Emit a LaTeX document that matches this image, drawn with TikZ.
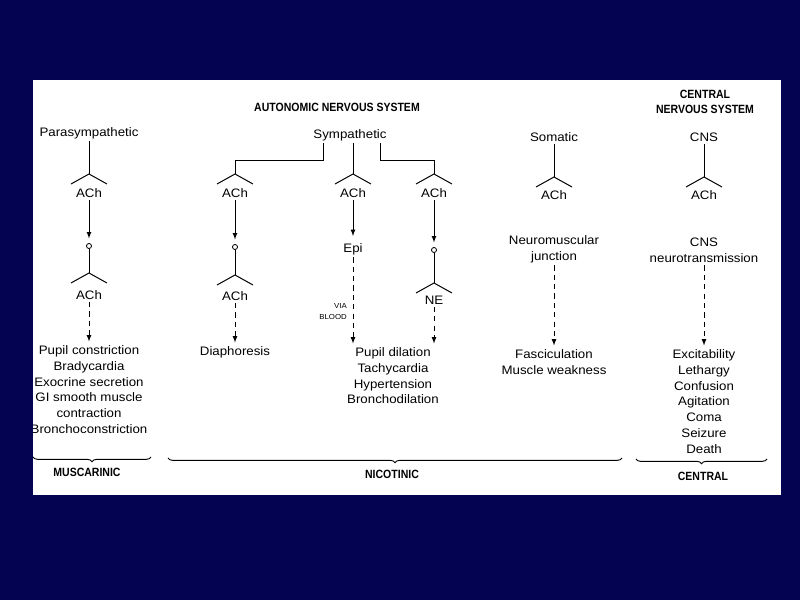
\documentclass[tikz,border=0pt]{standalone}
\usepackage{fontspec}
\setmainfont[FakeStretch=1.08]{Liberation Sans}
\newfontfamily\headfont[FakeStretch=0.88]{Liberation Sans}
\usetikzlibrary{positioning,decorations.pathreplacing}
\definecolor{slideblue}{RGB}{3,3,82}
\tikzset{
  lbl/.style={font=\fontsize{10.5}{13.6}\selectfont, inner sep=2pt, align=center
  },
  effects/.style={lbl, anchor=north, inner sep=0pt
  },
  head/.style={font=\headfont\bfseries\fontsize{10.2}{13.4}\selectfont, align=center, inner sep=0pt
  },
  tiny/.style={font=\fontsize{6.2}{9}\selectfont, anchor=east, inner sep=0pt
  },
  syn/.style={draw, circle, minimum size=4.3pt, inner sep=0pt, line width=0.7pt
  },
  fork/.pic={\draw[line width=0.85pt] (-18,10) -- (0,0) -- (18,10);},
  nerve/.style={line width=0.85pt},
  hit/.style={nerve, -latex, shorten >=4pt},
  blood/.style={nerve, dash pattern=on 4.5pt off 3.5pt, -latex, shorten >=3pt},
  bracey/.style={decorate, decoration={brace, mirror, amplitude=4pt}, line width=0.8pt}
}

\begin{document}
\begin{tikzpicture}[x=0.03cm, y=-0.03cm]
   \useasboundingbox (0,0) rectangle (800,600);
   \fill[slideblue] (0,0) rectangle (800,600);
   \fill[white] (33,80) rectangle (781,495);

   \begin{scope}
   \clip (33,80) rectangle (781,495);
   % headings
   \node[head] (ans) at (337,107) {AUTONOMIC NERVOUS SYSTEM};
   \node[head] (cnsys) at (705,102) {CENTRAL\\NERVOUS SYSTEM};

   % divisions
   \node[lbl] (para) at (89,133) {Parasympathetic};
   \node[lbl] (symp) at (350,135) {Sympathetic};
   \node[lbl] (soma) at (554,137) {Somatic};
   \node[lbl] (cns) at (704,137) {CNS};

   % synapses
   \coordinate (pf1) at (89,174);
   \coordinate (pf2) at (89,273);
   \coordinate (lf1) at (235,174);
   \coordinate (lf2) at (235,275);
   \coordinate (mf1) at (353,174);
   \coordinate (rf1) at (434,174);
   \coordinate (rf2) at (434,283);
   \coordinate (sf1) at (554,177);
   \coordinate (cf1) at (704,177);
   \foreach \f in {pf1,pf2,lf1,lf2,mf1,rf1,rf2,sf1,cf1}
      \pic at (\f) {fork};

   \coordinate (lb) at (323,161);
   \coordinate (rb) at (380,161);

   % transmitters
   \node[lbl] (pach1) at (89,193) {ACh};
   \node[lbl] (pach2) at (89,295) {ACh};
   \node[lbl] (lach1) at (235,193) {ACh};
   \node[lbl] (lach2) at (235,296) {ACh};
   \node[lbl] (mach) at (353,193) {ACh};
   \node[lbl] (epi) at (353,249) {Epi};
   \node[lbl] (rach) at (434,193) {ACh};
   \node[lbl] (ne) at (434,300) {NE};
   \node[lbl] (sach) at (554,195) {ACh};
   \node[lbl] (cach) at (704,195) {ACh};

   \node[syn] (pc) at (89,246) {};
   \node[syn] (lc) at (235,247) {};
   \node[syn] (rc) at (434,250) {};

   \node[lbl] (nmj) at (554,249) {Neuromuscular\\junction};
   \node[lbl] (cnst) at (704,250.5) {CNS\\neurotransmission};

   \node[tiny] (via) at (347,306) {VIA};
   \node[tiny] (blood) at (347,317) {BLOOD};

   % effects
   \node[effects] (peff) at (89,345) {Pupil constriction\\Bradycardia\\Exocrine secretion\\GI smooth muscle\\contraction\\Bronchoconstriction};
   \node[effects] (leff) at (235,346) {Diaphoresis};
   \node[effects] (meff) at (393,347) {Pupil dilation\\Tachycardia\\Hypertension\\Bronchodilation};
   \node[effects] (seff) at (554,349) {Fasciculation\\Muscle weakness};
   \node[effects] (ceff) at (704,349) {Excitability\\Lethargy\\Confusion\\Agitation\\Coma\\Seizure\\Death};

   % pathways
   \draw[nerve] (para) -- (pf1);
   \draw[hit] (pach1) -- (pc);
   \draw[nerve] (pc) -- (pf2);
   \draw[blood] (pach2) -- (peff);

   \draw[nerve] (symp.south -| lb) -- (lb) -| (lf1);
   \draw[nerve] (symp.south -| mf1) -- (mf1);
   \draw[nerve] (symp.south -| rb) -- (rb) -| (rf1);

   \draw[hit] (lach1) -- (lc);
   \draw[nerve] (lc) -- (lf2);
   \draw[blood] (lach2) -- (leff);

   \draw[hit] (mach) -- (epi);
   \draw[blood] (epi) -- (meff.north -| epi);

   \draw[hit] (rach) -- (rc);
   \draw[nerve] (rc) -- (rf2);
   \draw[blood] (ne) -- (meff.north -| ne);

   \draw[nerve] (soma) -- (sf1);
   \draw[blood] (nmj) -- (seff);
   \draw[nerve] (cns) -- (cf1);
   \draw[blood] (cnst) -- (ceff);

   % receptor groups
   \coordinate (mb1) at (33,457);
   \coordinate (mb2) at (151,457);
   \coordinate (nb1) at (168,458);
   \coordinate (nb2) at (622,458);
   \coordinate (cb1) at (636,459);
   \coordinate (cb2) at (767,459);
   \draw[bracey] (mb1) -- (mb2);
   \draw[bracey] (nb1) -- (nb2);
   \draw[bracey] (cb1) -- (cb2);
   \node[head] (musc) at (87,472) {MUSCARINIC};
   \node[head] (nico) at (392,474) {NICOTINIC};
   \node[head] (cent) at (703,476) {CENTRAL};
   \end{scope}
\end{tikzpicture}
\end{document}
